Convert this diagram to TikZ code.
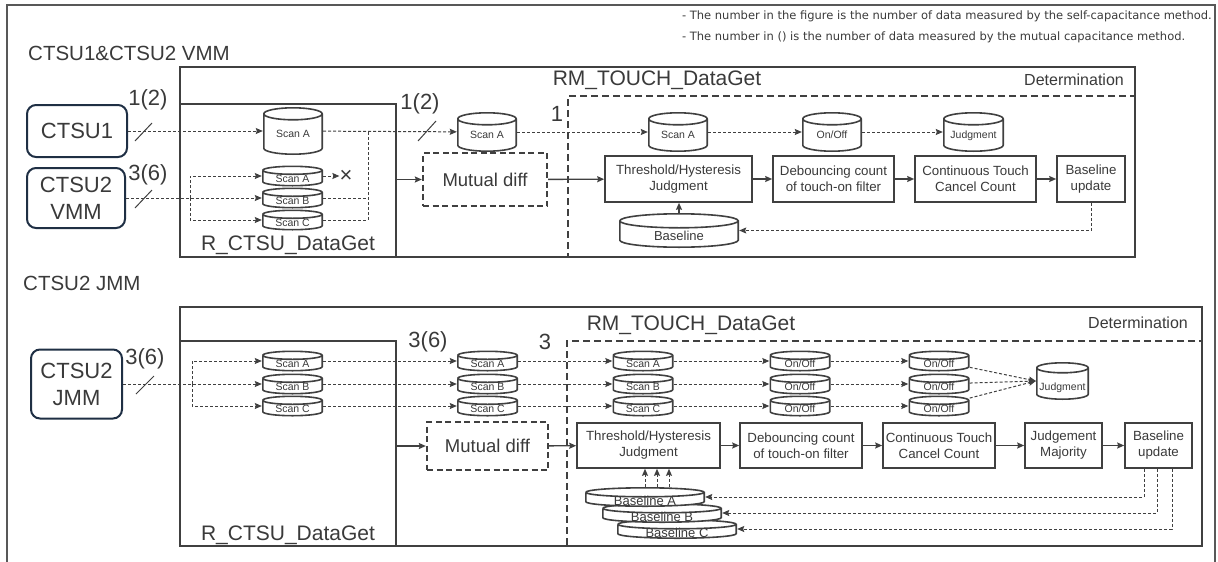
\documentclass[tikz,border=0pt]{standalone}
\usepackage{fontspec}
\setmainfont{Liberation Sans}
\newfontfamily\notefont{DejaVu Sans}
\usepackage{xcolor}
\usepackage{tikz}
\usetikzlibrary{shapes.geometric, arrows.meta, positioning, calc}

\definecolor{lineg}{RGB}{64,64,64}
\definecolor{textg}{RGB}{58,58,58}
\definecolor{srcblue}{RGB}{31,47,68}
\definecolor{frameg}{RGB}{88,88,88}

\tikzset{cyl ry/.store in=\cylry, cyl ry=6pt}

\begin{document}
\begin{tikzpicture}[x=1pt, y=-1pt, >={Stealth[length=7pt, width=6pt, inset=1pt]}, text=textg]
  \tikzstyle{src} = [rectangle, rounded corners=9pt, draw=srcblue, line width=2pt, align=center, inner sep=0pt, font=\fontsize{22}{27}\selectfont]
  \tikzstyle{frame} = [rectangle, draw=lineg, line width=2.3pt, inner sep=0pt]
  \tikzstyle{dframe} = [frame, dash pattern=on 7pt off 4pt]
  \tikzstyle{proc} = [rectangle, draw=lineg, line width=1.6pt, fill=white, align=center, inner sep=0pt, minimum height=46, font=\fontsize{13.3}{16}\selectfont]
  \tikzstyle{diff} = [rectangle, draw=lineg, line width=2.3pt, dash pattern=on 6pt off 3.5pt, inner sep=0pt, font=\fontsize{18.5}{22}\selectfont]
  \tikzstyle{cyl} = [rectangle, inner sep=0pt, text height=13.5pt, text depth=-1pt, font=\fontsize{10.5}{12}\selectfont,
    path picture={
      \filldraw[draw=lineg, fill=white, line width=1.6pt]
        let \p1=(path picture bounding box.south west), \p2=(path picture bounding box.north east) in
        (\x1+0.8pt, \y2-0.8pt-\cylry) -- (\x1+0.8pt, \y1+0.8pt+\cylry)
        arc[start angle=180, end angle=360, x radius={(\x2-\x1)/2-0.8pt}, y radius=\cylry]
        -- (\x2-0.8pt, \y2-0.8pt-\cylry)
        arc[start angle=0, end angle=180, x radius={(\x2-\x1)/2-0.8pt}, y radius=\cylry]
        (\x1+0.8pt, \y2-0.8pt-\cylry)
        arc[start angle=180, end angle=360, x radius={(\x2-\x1)/2-0.8pt}, y radius=\cylry];
    }]
  \tikzstyle{stk} = [cyl, cyl ry=4pt, minimum width=61, minimum height=21, text height=12pt, text depth=0pt]
  \tikzstyle{bln} = [cyl, cyl ry=4.5pt, minimum width=120, minimum height=20, text height=16pt, text depth=-2pt, font=\fontsize{13}{15}\selectfont]
  \tikzstyle{lbl} = [inner sep=0pt, font=\fontsize{21}{25}\selectfont]
  \tikzstyle{num} = [inner sep=0pt, font=\fontsize{22}{26}\selectfont]
  \tikzstyle{dline} = [draw=lineg, line width=1pt, dash pattern=on 3pt off 2pt]
  \tikzstyle{sline} = [draw=lineg, line width=1.4pt]

  \useasboundingbox (0,0) rectangle (1218,562);
  \draw[draw=frameg, line width=1.5pt] (7,570) |- (1215,5) -- (1215,570);

  \node[anchor=north east, align=left, inner sep=0pt, font=\notefont\fontsize{11.5}{21}\selectfont] (note) at (1212,11)
    {- The number in the figure is the number of data measured by the self-capacitance method.\\
     - The number in () is the number of data measured by the mutual capacitance method.};

  % CTSU1 / CTSU2 VMM
  \node[lbl, anchor=west, font=\fontsize{20.5}{24}\selectfont] (titleT) at (28,53) {CTSU1\&CTSU2 VMM};
  \node[frame, minimum width=955, minimum height=190] (bigT) at (657.5,162) {};
  \node[frame, minimum width=216, minimum height=153] (rctsuT) at (288,180.5) {};
  \node[dframe, minimum width=567, minimum height=161] (rmT) at (851.5,176.5) {};
  \node[lbl] (rctsuTl) at (288,245) {R\_CTSU\_DataGet};
  \node[lbl] (rmTl) at (657,80) {RM\_TOUCH\_DataGet};
  \node[lbl, anchor=east, font=\fontsize{16}{19}\selectfont] (detT) at (1124,80) {Determination};

  \node[src, minimum width=100, minimum height=52] (ctsu1) at (77,131) {CTSU1};
  \node[src, minimum width=98, minimum height=60] (ctsu2v) at (76,198) {CTSU2\\VMM};
  \node[cyl, minimum width=60, minimum height=48] (scanT) at (293,131) {Scan A};
  \node[stk] (vC) at (292.5,220) {Scan C};
  \node[stk] (vB) at (292.5,198) {Scan B};
  \node[stk] (vA) at (292.5,176) {Scan A};
  \node[num] (cross) at (346,176) {×};
  \node[num] (n1) at (148,100) {1(2)};
  \node[num] (n2) at (148,175) {3(6)};
  \node[num] (n3) at (420,104) {1(2)};
  \node[num] (n4) at (557,114) {1};

  \node[diff, minimum width=124, minimum height=53] (diffT) at (485,179.5) {Mutual diff};
  \node[cyl, minimum width=60, minimum height=40] (scanT2) at (487,132) {Scan A};
  \node[cyl, minimum width=60, minimum height=40] (scanT3) at (678,132) {Scan A};
  \node[cyl, minimum width=60, minimum height=40] (onT) at (832,132) {On/Off};
  \node[cyl, minimum width=61, minimum height=40] (judT) at (973.5,132) {Judgment};
  \node[proc, minimum width=147] (thrT) at (678.5,179) {Threshold/Hysteresis\\Judgment};
  \node[proc, minimum width=121] (debT) at (833.5,179) {Debouncing count\\of touch-on filter};
  \node[proc, minimum width=121] (conT) at (975.5,179) {Continuous Touch\\Cancel Count};
  \node[proc, minimum width=68] (updT) at (1091,179) {Baseline\\update};
  \node[cyl, cyl ry=7pt, minimum width=120, minimum height=35, text height=20pt, text depth=-4pt, font=\fontsize{13}{15}\selectfont] (baseT) at (679,230.5) {Baseline};

  \coordinate (brT) at (190,198);
  \coordinate (jnT) at (368,131);
  \draw[dline,->] (ctsu1) -- (scanT);
  \draw[dline,->] (ctsu2v) -- (vB);
  \draw[dline,->] (brT) |- (vA);
  \draw[dline,->] (brT) |- (vC);
  \draw[dline,->] (vA) -- (cross);
  \draw[dline] (vB.east) -- (vB.east -| jnT);
  \draw[dline] (vC.east) -| (jnT);
  \draw[dline,->] (scanT) -- (scanT2);
  \draw[line width=1pt, draw=lineg] (135,141) -- (152,123);
  \draw[line width=1pt, draw=lineg] (135,208) -- (152,190);
  \draw[line width=1pt, draw=lineg] (418,141) -- (436,121);
  \draw[dline,->] (scanT2) -- (scanT3);
  \draw[dline,->] (scanT3) -- (onT);
  \draw[dline,->] (onT) -- (judT);
  \draw[sline,->] (rctsuT.east |- diffT) -- (diffT);
  \draw[sline,->] (diffT) -- (thrT);
  \draw[sline,->] (thrT) -- (debT);
  \draw[sline,->] (debT) -- (conT);
  \draw[sline,->] (conT) -- (updT);
  \draw[sline,->] (baseT) -- (baseT |- thrT.south);
  \draw[dline,->] (updT.south) |- (baseT);

  % CTSU2 JMM
  \node[lbl, anchor=west, font=\fontsize{20.5}{24}\selectfont] (titleB) at (23,283) {CTSU2 JMM};
  \node[frame, minimum width=1022, minimum height=239] (bigB) at (691,426.5) {};
  \node[frame, minimum width=216, minimum height=205] (rctsuB) at (288,443.5) {};
  \node[dframe, minimum width=635, minimum height=205] (rmB) at (884.5,443.5) {};
  \node[lbl] (rctsuBl) at (288,535) {R\_CTSU\_DataGet};
  \node[lbl] (rmBl) at (691,325) {RM\_TOUCH\_DataGet};
  \node[lbl, anchor=east, font=\fontsize{16}{19}\selectfont] (detB) at (1188,323) {Determination};

  \node[src, minimum width=91, minimum height=69] (ctsu2j) at (76.5,384) {CTSU2\\JMM};
  \node[num] (n5) at (145,359) {3(6)};
  \node[num] (n6) at (428,342) {3(6)};
  \node[num] (n7) at (545,342) {3};

  \foreach \r/\yy in {C/406, B/384, A/361} {
    \node[stk] (s1\r) at (292.5,\yy) {Scan \r};
    \node[stk] (s2\r) at (487.5,\yy) {Scan \r};
    \node[stk] (s3\r) at (643,\yy) {Scan \r};
    \node[stk] (o1\r) at (800,\yy) {On/Off};
    \node[stk] (o2\r) at (939,\yy) {On/Off};
  }
  \node[cyl, cyl ry=5pt, minimum width=53, minimum height=38, text height=18pt, text depth=-4pt] (judB) at (1062.5,381) {Judgment};

  \node[diff, minimum width=121, minimum height=48] (diffB) at (487.5,446) {Mutual diff};
  \node[proc, minimum width=143, minimum height=45] (thrB) at (648.5,445.5) {Threshold/Hysteresis\\Judgment};
  \node[proc, minimum width=122, minimum height=45] (debB) at (801,445.5) {Debouncing count\\of touch-on filter};
  \node[proc, minimum width=112, minimum height=45] (conB) at (939,445.5) {Continuous Touch\\Cancel Count};
  \node[proc, minimum width=77, minimum height=45] (majB) at (1063.5,445.5) {Judgement\\Majority};
  \node[proc, minimum width=67, minimum height=45] (updB) at (1158.5,445.5) {Baseline\\update};

  \node[bln] (bsC) at (677,529) {Baseline C};
  \node[bln] (bsB) at (662,513) {Baseline B};
  \node[bln] (bsA) at (645,497) {Baseline A};

  \coordinate (brB) at (192,384);
  \draw[dline,->] (ctsu2j) -- (s1B);
  \draw[dline,->] (brB) |- (s1A);
  \draw[dline,->] (brB) |- (s1C);
  \draw[line width=1pt, draw=lineg] (136,394) -- (154,376);
  \foreach \r in {A,B,C} {
    \draw[dline,->] (s1\r) -- (s2\r);
    \draw[dline,->] (s2\r) -- (s3\r);
    \draw[dline,->] (s3\r) -- (o1\r);
    \draw[dline,->] (o1\r) -- (o2\r);
    \draw[dline,->] (o2\r) -- (judB.west);
  }
  \draw[sline,->] (rctsuB.east |- diffB) -- (diffB);
  \draw[sline,->] (diffB) -- (thrB);
  \draw[sline,->] (thrB) -- (debB);
  \draw[sline,->] (debB) -- (conB);
  \draw[sline,->] (conB) -- (majB);
  \draw[sline,->] (majB) -- (updB);
  \foreach \dx in {0,12,24}
    \draw[dline,->] ([xshift=\dx pt]bsA.north) -- ([xshift=\dx pt]bsA.north |- thrB.south);
  \draw[dline,->] ([xshift=-14.5pt]updB.south) |- (bsA);
  \draw[dline,->] ([xshift=-1.5pt]updB.south) |- (bsB);
  \draw[dline,->] ([xshift=13.5pt]updB.south) |- (bsC);
\end{tikzpicture}
\end{document}
